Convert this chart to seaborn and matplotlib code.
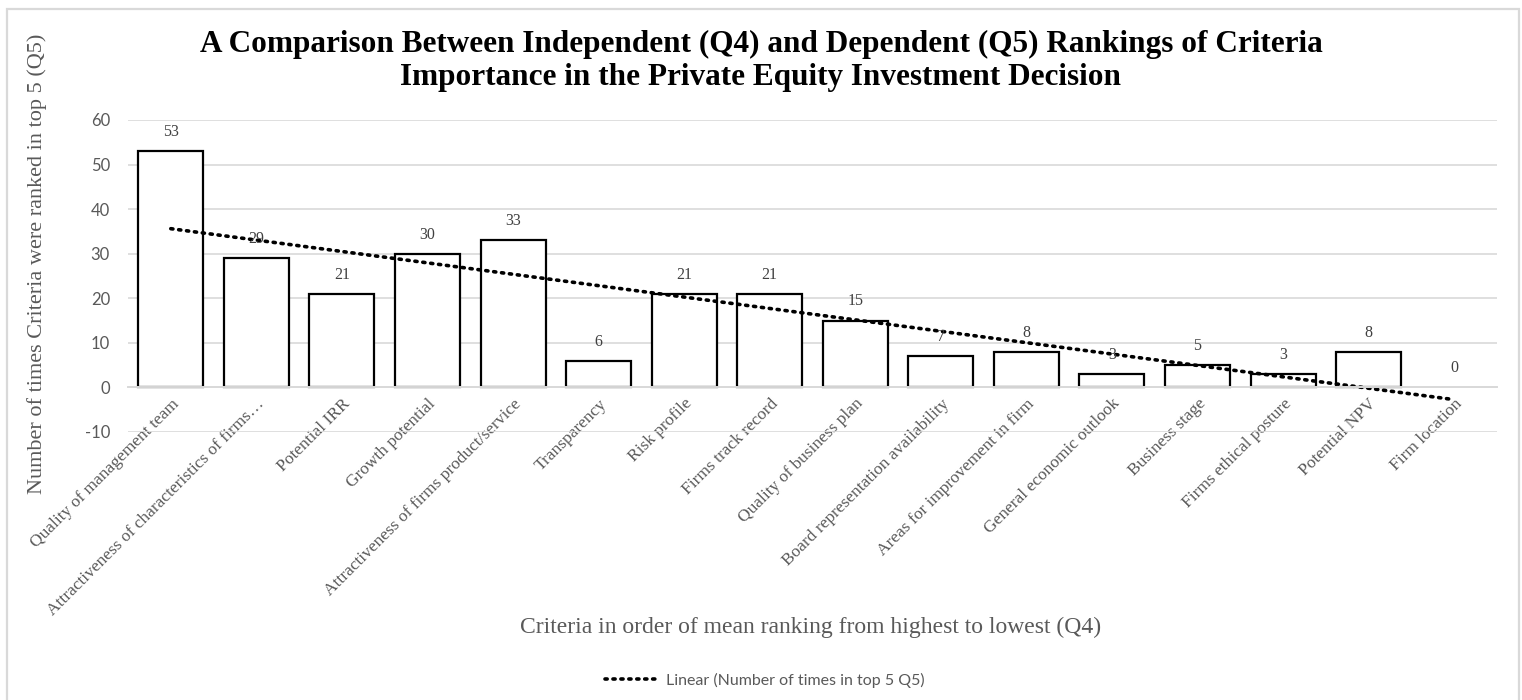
import numpy as np
import pandas as pd
import matplotlib
matplotlib.use("Agg")
import matplotlib.pyplot as plt
import seaborn as sns
from matplotlib.patches import Rectangle
from matplotlib.lines import Line2D

categories = [
    "Quality of management team",
    "Attractiveness of characteristics of firms…",
    "Potential IRR",
    "Growth potential",
    "Attractiveness of firms product/service",
    "Transparency",
    "Risk profile",
    "Firms track record",
    "Quality of business plan",
    "Board representation availability",
    "Areas for improvement in firm",
    "General economic outlook",
    "Business stage",
    "Firms ethical posture",
    "Potential NPV",
    "Firm location",
]
values = [53, 29, 21, 30, 33, 6, 21, 21, 15, 7, 8, 3, 5, 3, 8, 0]
yticks = [-10, 0, 10, 20, 30, 40, 50, 60]

title_lines = ["A Comparison Between Independent (Q4) and Dependent (Q5) Rankings of Criteria",
               "Importance in the Private Equity Investment Decision"]
ylabel = "Number of times Criteria were ranked in top 5 (Q5)"
xlabel = "Criteria in order of mean ranking from highest to lowest (Q4)"
legend_label = "Linear (Number of times in top 5 Q5)"

sns.set_theme(style="white")
plt.rcParams["font.family"] = ["Liberation Serif", "DejaVu Serif"]

df = pd.DataFrame({"cat": categories, "val": values, "idx": np.arange(len(values))})

W, H = 1522, 700
fig = plt.figure(figsize=(W / 100, H / 100), dpi=100)
ax = fig.add_axes([128 / W, 1 - 432 / H, (1497 - 128) / W, (432 - 120) / H])

GRAY_TXT = "#595959"
GRID = "#d9d9d9"
DOT = (0, (0.6, 1.6))

ax.set_axisbelow(True)
ax.yaxis.grid(True, color=GRID, linewidth=1.2)
sns.barplot(data=df, x="cat", y="val", ax=ax, color="white", edgecolor="black",
            linewidth=1.6, width=0.76, saturation=1)
for patch, v in zip(ax.containers[0], values):
    if v == 0:
        patch.set_linewidth(0)
sns.regplot(data=df, x="idx", y="val", ax=ax, scatter=False, ci=None, truncate=True,
            line_kws=dict(color="black", linewidth=2.6, linestyle=DOT,
                          dash_capstyle="round"))

ax.set_xlim(-0.5, len(values) - 0.5)
ax.set_ylim(-10, 60)
ax.set_yticks(yticks)
ax.set_yticklabels([str(t) for t in yticks], family=["Lato", "DejaVu Sans"],
                   fontsize=12, color=GRAY_TXT)
ax.tick_params(axis="y", length=0, pad=13)
ax.tick_params(axis="x", length=0, pad=6)

for s in ["top", "right", "left"]:
    ax.spines[s].set_visible(False)
ax.spines["bottom"].set_position(("data", 0))
ax.spines["bottom"].set_color(GRID)
ax.spines["bottom"].set_linewidth(1.4)
ax.spines["bottom"].set_zorder(5)

ax.set_xticks(range(len(categories)))
ax.set_xticklabels(categories, rotation=45, ha="right", rotation_mode="anchor",
                   fontsize=12.5, color=GRAY_TXT)

ax.bar_label(ax.containers[0], labels=[str(v) for v in values], padding=8,
             fontsize=11.5, color="#404040")

ax.set_xlabel("")
ax.set_ylabel("")
fig.text(37 / W, 1 - 264 / H, ylabel, rotation=90, ha="center", va="center",
         fontsize=16, color=GRAY_TXT)
fig.text(811 / W, 1 - 627 / H, xlabel, ha="center", va="center",
         fontsize=17, color=GRAY_TXT)
for line, base in zip(title_lines, [52, 85]):
    fig.text(761 / W, 1 - base / H, line, ha="center", va="baseline", fontsize=22.5,
             fontweight="bold", color="black")

handle = Line2D([], [], color="black", linewidth=2.6, linestyle=DOT,
                dash_capstyle="round")
fig.legend([handle], [legend_label], loc="center", bbox_to_anchor=(765 / W, 1 - 680 / H),
           frameon=False, prop={"family": ["Lato", "DejaVu Sans"], "size": 11.5},
           labelcolor=GRAY_TXT, handlelength=3.4, handletextpad=0.4)

fig.patches.append(Rectangle((7 / W, -10 / H), 1512 / W, (H + 10 - 9) / H,
                             transform=fig.transFigure, fill=False,
                             edgecolor=GRID, linewidth=1.6))

fig.savefig("out.png", dpi=100)
